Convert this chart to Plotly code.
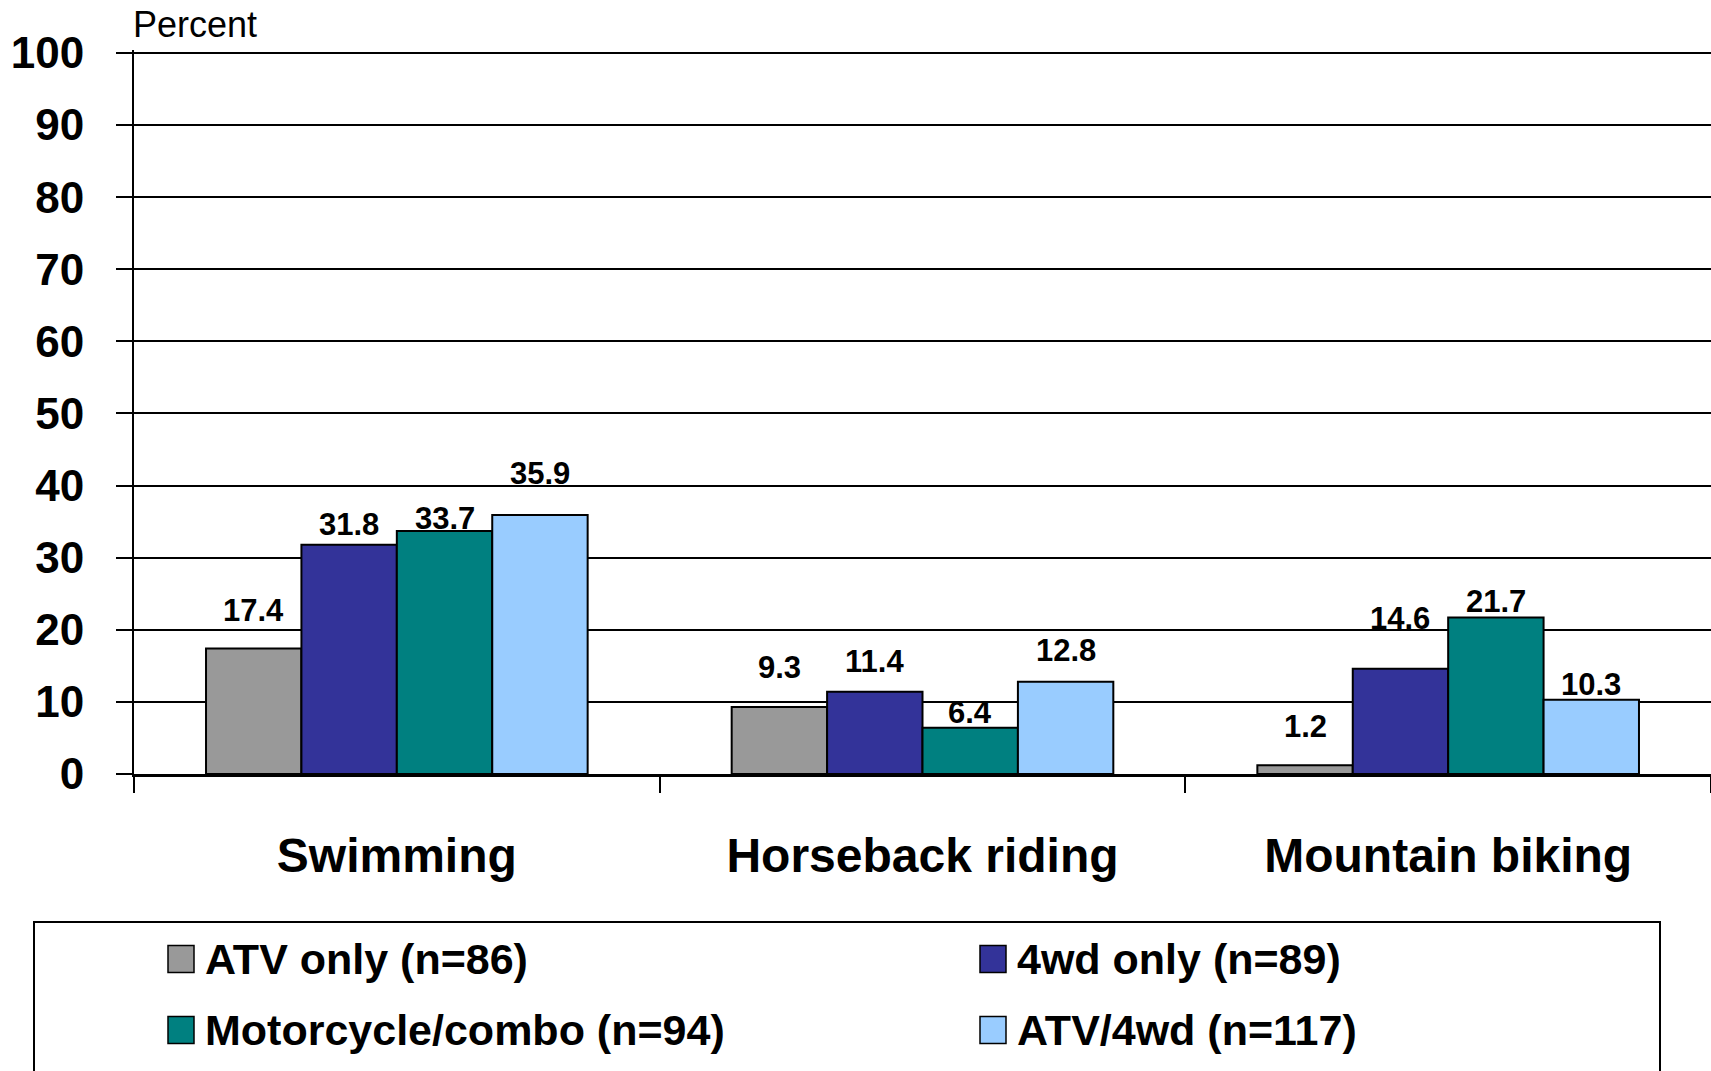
import plotly.graph_objects as go

# Activities and share of each rider group that also took part (percent)
activities = ["Swimming", "Horseback riding", "Mountain biking"]
series_names = ["ATV only (n=86)", "4wd only (n=89)",
                "Motorcycle/combo (n=94)", "ATV/4wd (n=117)"]
atv_only = [17.4, 9.3, 1.2]
fourwd_only = [31.8, 11.4, 14.6]
moto_combo = [33.7, 6.4, 21.7]
atv_4wd = [35.9, 12.8, 10.3]
y_ticks = [0, 10, 20, 30, 40, 50, 60, 70, 80, 90, 100]

series_values = [atv_only, fourwd_only, moto_combo, atv_4wd]
colors = ["#999999", "#333399", "#008080", "#99CCFF"]

# Pixel lift of each value label above its bar (by series, then activity)
label_lift = [[38, 39, 39], [20, 30, 50], [12, 15, 16], [42, 31, 15]]

FONT = "Liberation Sans, Arial, Helvetica, sans-serif"
W, H = 1711, 1071
Y_TOP = 100.4  # a little headroom so the 100 gridline is kept
ML, MR, MB = 134, 0, 297
MT = 53 - round((Y_TOP - 100) * (H - 53 - MB) / 100)
BARGAP = 0.274

plot_w = W - ML - MR
plot_h = H - MT - MB
cat_px = plot_w / len(activities)
bar_px = cat_px * (1 - BARGAP) / len(series_names)


def px_x(px):
    return (px - ML) / plot_w


def px_y(py):
    return (H - MB - py) / plot_h


fig = go.Figure()
for name, vals, col in zip(series_names, series_values, colors):
    fig.add_trace(go.Bar(
        x=activities, y=vals, name=name,
        marker=dict(color=col, line=dict(color="black", width=2)),
        showlegend=False, hoverinfo="x+y+name",
    ))

annotations = []
# value labels above the bars
n = len(series_names)
for i, (vals, lifts) in enumerate(zip(series_values, label_lift)):
    for act, v, lift in zip(activities, vals, lifts):
        annotations.append(dict(
            x=act, y=v, xref="x", yref="y", text=f"{v:.1f}",
            showarrow=False, xanchor="center", yanchor="middle",
            xshift=(i - (n - 1) / 2) * bar_px, yshift=lift,
            font=dict(family=FONT, size=31, color="black", weight="bold"),
        ))

# axis title
annotations.append(dict(
    x=px_x(131), y=px_y(53), xref="paper", yref="paper", text="Percent",
    showarrow=False, xanchor="left", yanchor="bottom", yshift=6,
    font=dict(family=FONT, size=36, color="black"),
))

# legend: framed box with two columns of swatches
shapes = [dict(
    type="rect", xref="paper", yref="paper",
    x0=px_x(34), x1=px_x(1660), y0=px_y(1090), y1=px_y(922),
    line=dict(color="black", width=2), fillcolor="white", layer="above",
)]
legend_cols = [168, 980]
legend_rows = [959, 1030]
SW_W, SW_H = 26, 27
for k, (name, col) in enumerate(zip(series_names, colors)):
    cx = legend_cols[k % 2]
    cy = legend_rows[k // 2]
    shapes.append(dict(
        type="rect", xref="paper", yref="paper",
        x0=px_x(cx), x1=px_x(cx + SW_W),
        y0=px_y(cy + SW_H / 2), y1=px_y(cy - SW_H / 2),
        line=dict(color="black", width=1.5), fillcolor=col, layer="above",
    ))
    annotations.append(dict(
        x=px_x(cx + SW_W + 9), y=px_y(cy), xref="paper", yref="paper",
        text=name, showarrow=False, xanchor="left", yanchor="middle",
        font=dict(family=FONT, size=43, color="black", weight="bold"),
    ))

fig.update_layout(
    width=W, height=H,
    margin=dict(l=ML, r=MR, t=MT, b=MB, pad=0),
    paper_bgcolor="white", plot_bgcolor="white",
    barmode="group", bargap=BARGAP, bargroupgap=0,
    font=dict(family=FONT, color="black"),
    annotations=annotations, shapes=shapes,
    showlegend=False,
)
fig.update_xaxes(
    type="category", showline=True, linecolor="black", linewidth=3,
    ticks="outside", tickson="boundaries", ticklen=16, tickwidth=2,
    tickcolor="black", showgrid=False, ticklabelstandoff=37,
    tickfont=dict(family=FONT, size=48, color="black", weight="bold"),
)
fig.update_yaxes(
    range=[0, Y_TOP], tickvals=y_ticks, showline=True, linecolor="black",
    linewidth=2, ticks="outside", ticklen=16, tickwidth=2, tickcolor="black",
    showgrid=True, gridcolor="black", gridwidth=2, zeroline=False,
    ticklabelstandoff=23,
    tickfont=dict(family=FONT, size=44, color="black", weight="bold"),
)

fig.write_html("out.html", config={"displayModeBar": False})
